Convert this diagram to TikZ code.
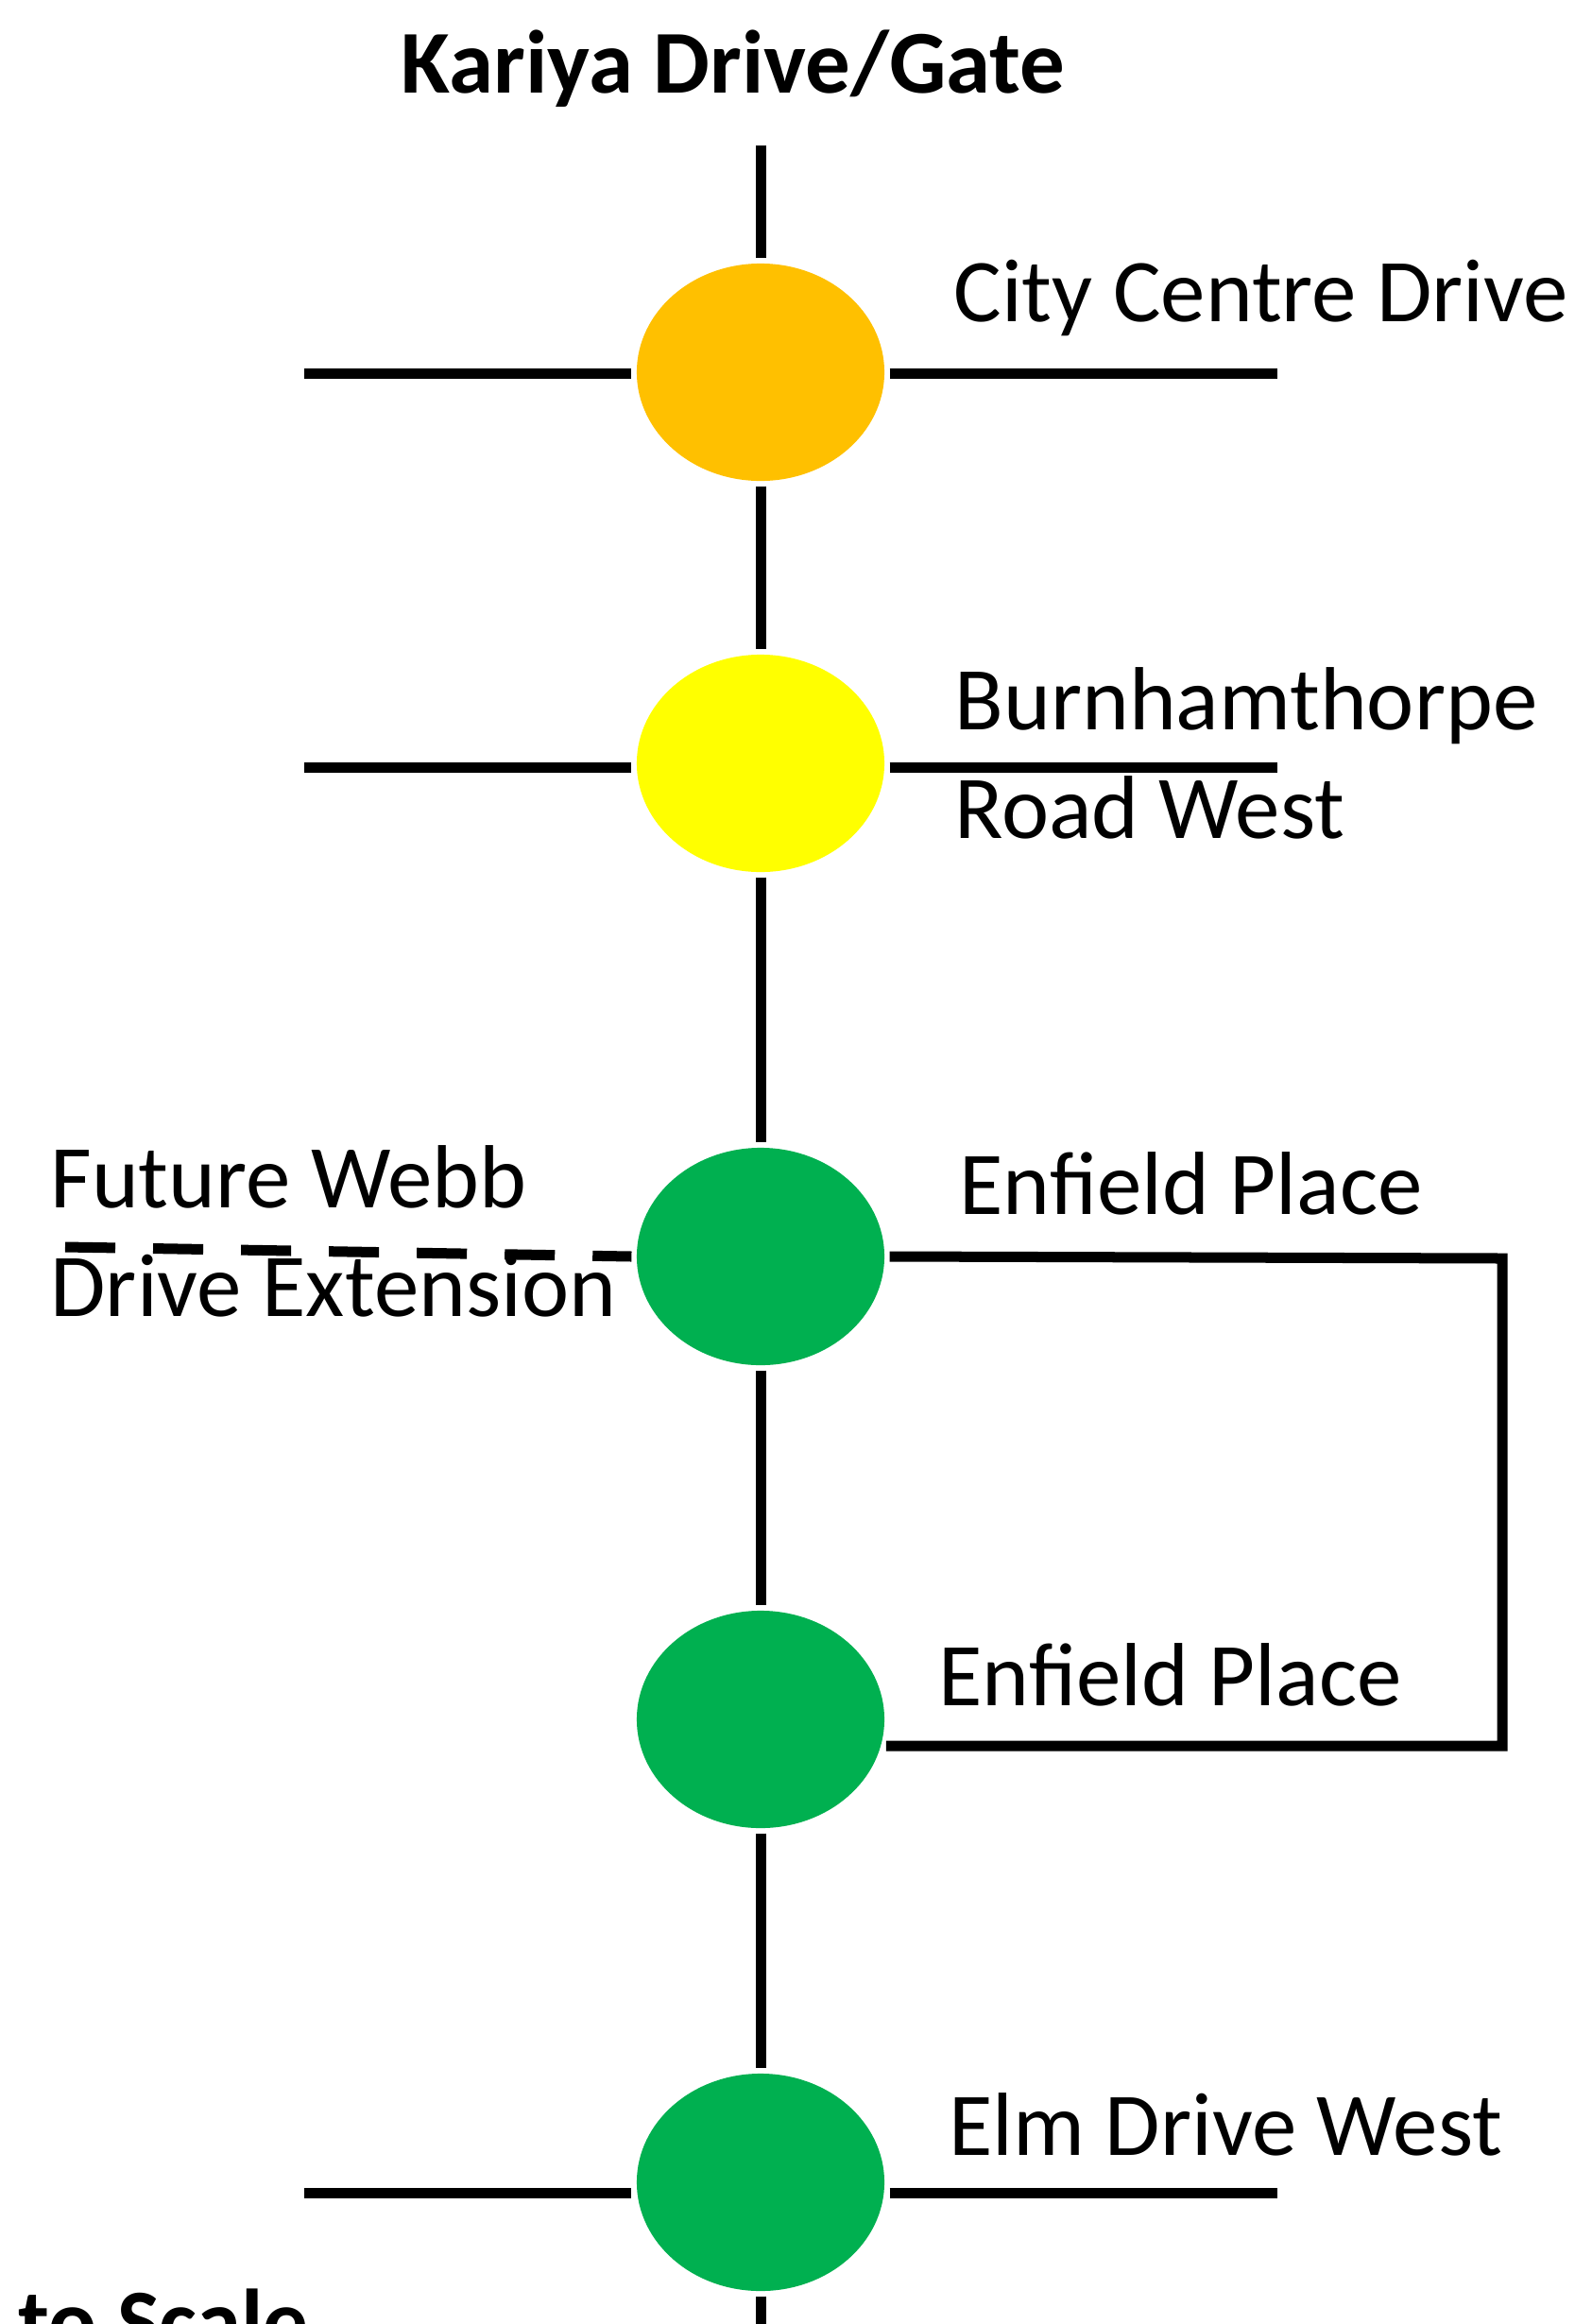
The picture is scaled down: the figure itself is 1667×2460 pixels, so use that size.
\documentclass[tikz,border=0pt]{standalone}
\usepackage{fontspec}
\setmainfont{Carlito}
\usetikzlibrary{shapes.geometric}
\definecolor{amber}{HTML}{FFC000}
\definecolor{lemon}{HTML}{FFFF00}
\definecolor{go}{HTML}{00B050}

\begin{document}
\begin{tikzpicture}[x=0.01cm, y=-0.01cm, line width=0.11cm,
	lamp/.style={ellipse, fill=#1, minimum width=2.62cm, minimum height=2.3cm, inner sep=0},
	road/.style={font=\fontsize{27pt}{32.7pt}\selectfont, anchor=base west, inner sep=0, align=left}]
	\useasboundingbox (0,0) rectangle (1667,2460);
	\clip (0,0) rectangle (1667,2460);
	% signals along the main road
	\node[lamp=amber] (city) at (805,394) {};
	\node[lamp=lemon] (burn) at (805,808) {};
	\node[lamp=go] (enfA) at (805,1330) {};
	\node[lamp=go] (enfB) at (805,1820) {};
	\node[lamp=go] (elm) at (805,2310) {};
	\coordinate (top) at (805,154);
	\coordinate (bottom) at (805,2460);
	\draw (top) -- (city.north);
	\draw (city.south) -- (burn.north);
	\draw (burn.south) -- (enfA.north);
	\draw (enfA.south) -- (enfB.north);
	\draw (enfB.south) -- (elm.north);
	\draw (elm.south) -- (bottom);
	% cross streets
	\coordinate (cityW) at (322,395);
	\coordinate (cityE) at (1352,395);
	\coordinate (burnW) at (322,812);
	\coordinate (burnE) at (1352,812);
	\coordinate (elmW) at (322,2321);
	\coordinate (elmE) at (1352,2321);
	\draw (cityW) -- (cityW -| city.west) (cityE -| city.east) -- (cityE);
	\draw (burnW) -- (burnW -| burn.west) (burnE -| burn.east) -- (burnE);
	\draw (elmW) -- (elmW -| elm.west) (elmE -| elm.east) -- (elmE);
	\coordinate (webb) at (69,1320);
	\draw[dash pattern=on 0.53cm off 0.4cm] (webb) -- (enfA.west);
	\coordinate (loop) at (1590,1332);
	\draw (enfA.east) -- (loop) |- (enfB.-12);
	% labels
	\node[road, font=\fontsize{27pt}{32.7pt}\selectfont\bfseries, anchor=base] (gate) at (776,98) {Kariya Drive/Gate};
	\node[road] (cityL) at (1004,340) {City Centre Drive};
	\node[road] (burnL) at (1005,887) {Burnhamthorpe\\Road West};
	\node[road] (webbL) at (48,1393) {Future Webb\\Drive Extension};
	\node[road] (enfAL) at (1010,1285) {Enfield Place};
	\node[road] (enfBL) at (988,1805) {Enfield Place};
	\node[road] (elmL) at (999,2281) {Elm Drive West};
	\node[road, font=\fontsize{27pt}{32.7pt}\selectfont\bfseries] (scale) at (14,2489) {to Scale};
\end{tikzpicture}
\end{document}
